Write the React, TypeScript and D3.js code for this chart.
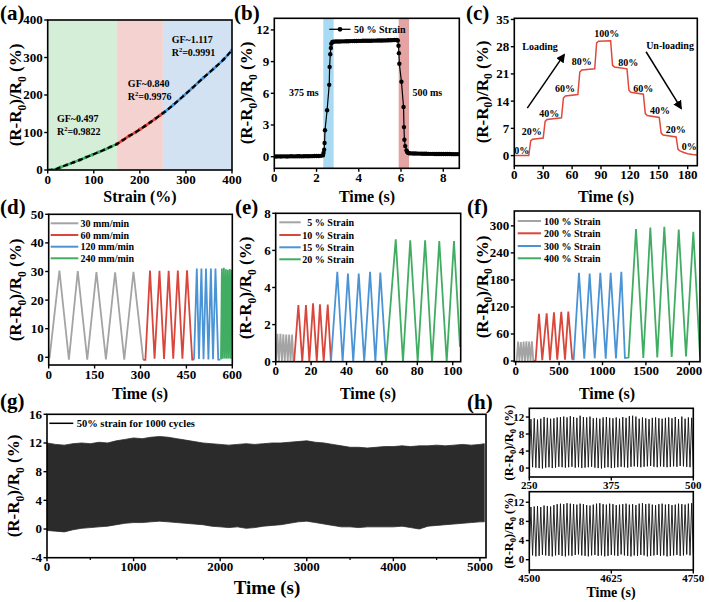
import React from "react";
import * as d3 from "d3";

const FONT = "'Liberation Serif','Times New Roman',serif";
const GRAY = "#a4a4a4";
const RED = "#d9463b";
const BLUE = "#4a94d6";
const GREEN = "#40ad62";

// ---------------- (a) strain sensitivity
const aStrainG = [0, 10, 20, 28, 42, 56, 70, 83, 97, 110, 124, 137, 150];
const aValueG = [0, 0.8, 3.5, 7.5, 14, 20.4, 27, 33.8, 40.8, 47.5, 54.5, 62, 69];
const aStrainR = [150, 163, 177, 190, 200, 212, 223, 234, 244, 250];
const aValueR = [69, 79.5, 91, 100, 108.3, 118, 127.5, 137, 146, 151.5];
const aStrainB = [250, 255, 273, 295, 315, 338, 360, 382, 400];
const aValueB = [151.5, 156, 174, 198, 220, 246, 270, 295, 320];
const aRegionEdges = [0, 150, 250, 400];
const aGF = ["GF~0.497", "GF~0.840", "GF~1.117"];
const aR2 = ["0.9822", "0.9976", "0.9991"];

// ---------------- (b) response time
const bBaseStart = 0, bBaseStep = 0.1;
const bBaseValue = [0.02, 0.02, 0.03, 0.02, 0.03, 0.03, 0.02, 0.03, 0.04, 0.03, 0.03, 0.04, 0.04, 0.03, 0.04, 0.05, 0.04, 0.05, 0.05, 0.06, 0.06, 0.07, 0.08];
const bRiseTime = [2.3, 2.33, 2.36, 2.38, 2.4, 2.5, 2.6, 2.62, 2.65, 2.68, 2.7, 2.75];
const bRiseValue = [0.12, 0.35, 0.65, 1.3, 2.5, 4.4, 6.8, 8.5, 9.7, 10.3, 10.7, 10.85];
const bPlatStart = 2.8, bPlatStep = 0.1;
const bPlatValue = [10.88, 10.9, 10.9, 10.91, 10.92, 10.92, 10.93, 10.93, 10.94, 10.94, 10.95, 10.95, 10.96, 10.96, 10.97, 10.97, 10.97, 10.98, 10.98, 10.99, 10.99, 11.0, 11.0, 11.0, 11.01, 11.01, 11.02, 11.02, 11.03, 11.04, 11.05];
const bFallTime = [5.85, 5.88, 5.9, 5.92, 6.02, 6.12, 6.14, 6.16, 6.2, 6.26, 6.3, 6.35];
const bFallValue = [11.0, 10.5, 9.8, 8.8, 7.1, 4.7, 2.8, 1.6, 1.0, 0.6, 0.42, 0.34];
const bTailStart = 6.4, bTailStep = 0.1;
const bTailValue = [0.32, 0.31, 0.3, 0.3, 0.29, 0.29, 0.28, 0.28, 0.28, 0.27, 0.27, 0.27, 0.26, 0.26, 0.26, 0.26, 0.25, 0.25, 0.25, 0.25, 0.24, 0.24, 0.24, 0.24];
const bBlueBand = [2.32, 2.81];
const bRedBand = [5.89, 6.38];

// ---------------- (c) step loading
const cTime = [0, 15, 17, 19, 30, 32, 34, 49, 51, 53, 66, 68, 70, 83.5, 85.5, 87.5, 100, 102, 104, 117, 119, 121, 134, 136, 138, 150.5, 152.5, 154.5, 168, 170, 172, 176, 180, 185, 190];
const cValue = [0, 0, 3.8, 4.2, 4.5, 8.8, 9.3, 9.7, 14.8, 15.3, 15.7, 21.5, 22, 22.3, 29, 29.4, 29.5, 23.2, 22.8, 22.3, 16.8, 16.3, 15.8, 10.8, 10.3, 9.8, 5.8, 5.3, 4.8, 1.6, 1.2, 0.8, 0.5, 0.3, 0.15];
const cLabels = ["0%", "20%", "40%", "60%", "80%", "100%", "80%", "60%", "40%", "20%", "0%"];
const cLabelTime = [7.7, 18.1, 36.3, 52.6, 70, 96, 118.4, 134, 151.3, 167.6, 181.7];
const cLabelValue = [0.4, 5.2, 10, 16.4, 23.2, 30.5, 23.1, 16.4, 10.6, 5.9, 1.4];

// ---------------- (d) stretching rates
const dGrayT = [0, 3, 35, 66, 95, 126, 156, 187, 217, 247, 277, 309];
const dGrayV = [0, 0, 30.3, -0.8, 30.1, -0.8, 29.8, -0.7, 29.7, -0.8, 29.9, -0.9];
const dRedT = [309, 316, 331, 346, 362, 377, 392, 407, 422, 437, 452, 469, 475];
const dRedV = [-0.9, -0.9, 30.3, -0.5, 30.2, -0.6, 30.2, -0.5, 30.3, -0.5, 30.4, -0.8, -0.8];
const dBlueT = [475, 484, 491, 499, 506, 514, 522, 530, 537, 545, 554, 561];
const dBlueV = [-0.8, 31, -0.6, 31, -0.7, 31, -0.8, 31, -0.7, 31, -0.8, -0.8];
const dGreenT = [561, 563, 566, 569, 572.5, 575.5, 579, 582, 585.5, 588.5, 592, 595, 598.5, 600];
const dGreenV = [-0.6, -0.5, 31, -0.5, 31.3, -0.4, 30.8, -0.5, 30.6, -0.4, 30.9, -0.5, 30.5, 15];
const dNames = ["30 mm/min", "60 mm/min", "120 mm/min", "240 mm/min"];

// ---------------- (e) small strains
const eGrayT = [0, 0.2, 1.0, 1.8, 2.65, 3.5, 4.3, 5.1, 5.95, 6.8, 7.6, 8.4, 9.25, 10.0, 10.4];
const eGrayV = [0, 0, 1.5, 0, 1.5, 0, 1.48, 0, 1.47, 0, 1.47, 0, 1.46, 0, 0];
const eRedT = [10.4, 12.8, 15, 17.1, 19, 21.1, 23.2, 25, 27.1, 29.4, 31.2];
const eRedV = [0, 3.05, 0, 3.05, 0, 3.15, 0, 3.1, 0, 3.08, 0];
const eBlueT = [31.2, 34.8, 37.8, 40.8, 43.8, 46.9, 50, 53.3, 56.3, 59.1, 62.3];
const eBlueV = [0, 4.85, 0, 4.75, 0, 4.75, 0, 4.85, 0, 4.8, 0];
const eGreenT = [62.3, 67.8, 71.9, 76, 80.2, 84.4, 88.3, 92.4, 96.6, 100.7, 104.1];
const eGreenV = [0, 6.6, 0, 6.55, 0, 6.55, 0, 6.5, 0, 6.5, 0.8];
const eNames = ["5 % Strain", "10 % Strain", "15 % Strain", "20 % Strain"];

// ---------------- (f) large strains
const fGrayT = [0, 11, 27, 43, 59, 75, 91, 107, 123, 139, 155, 171, 187, 203, 212];
const fGrayV = [0, 0, 43, 0, 42, 0, 43, 0, 44, 0, 43, 0, 44, 0, 0];
const fRedT = [212, 230, 268, 306, 357, 395, 441, 479, 525, 568, 606, 652];
const fRedV = [0, 2, 105, 2, 106, 2, 108, 3, 109, 3, 110, 3];
const fBlueT = [652, 668, 729, 790, 852, 910, 975, 1037, 1094, 1155, 1217, 1258, 1290];
const fBlueV = [3, 4, 196, 5, 194, 6, 196, 5, 196, 6, 198, 7, 7];
const fGreenT = [1290, 1300, 1386, 1470, 1551, 1631, 1712, 1797, 1878, 1962, 2046, 2123];
const fGreenV = [7, 8, 293, 7, 296, 8, 298, 9, 292, 10, 287, 10];
const fNames = ["100 % Strain", "200 % Strain", "300 % Strain", "400 % Strain"];

// ---------------- (g) 1000 cycles (envelope)
const gTime = [0, 100, 200, 300, 400, 500, 600, 700, 800, 900, 1000, 1100, 1200, 1300, 1400, 1500, 1600, 1700, 1800, 1900, 2000, 2100, 2200, 2300, 2400, 2500, 2600, 2700, 2800, 2900, 3000, 3100, 3200, 3300, 3400, 3500, 3600, 3700, 3800, 3900, 4000, 4100, 4200, 4300, 4400, 4500, 4600, 4700, 4800, 4900, 5000, 5050];
const gUpper = [12.0, 11.8, 11.7, 11.9, 12.0, 11.9, 12.1, 12.0, 12.3, 12.5, 12.7, 12.6, 12.8, 12.9, 12.8, 12.6, 12.4, 12.2, 12.0, 11.9, 11.8, 11.7, 11.8, 11.9, 11.8, 11.9, 12.0, 12.0, 12.1, 12.2, 12.3, 12.1, 12.0, 11.8, 11.6, 11.4, 11.4, 11.3, 11.4, 11.5, 11.5, 11.6, 11.5, 11.6, 11.6, 11.7, 11.6, 11.7, 11.8, 11.7, 11.8, 11.9];
const gLower = [-0.2, -0.3, -0.4, -0.1, 0.1, 0.2, 0.3, 0.4, 0.6, 0.8, 0.9, 0.9, 1.0, 1.1, 1.0, 0.9, 0.8, 0.7, 0.6, 0.4, 0.3, 0.2, 0.3, 0.1, 0.2, 0.4, 0.5, 0.6, 0.8, 1.0, 1.1, 0.9, 0.7, 0.5, 0.3, 0.3, 0.2, 0.3, 0.3, 0.3, 0.3, 0.4, 0.2, 0.0, 0.4, 0.5, 0.6, 0.7, 0.8, 0.9, 1.0, 1.0];

// ---------------- (h) zoomed cycles
const hPeriod = 5;
const hTopStart = 250;
const hTopPeak = [11.5, 11.7, 11.4, 11.6, 12.0, 11.8, 11.6, 11.7, 11.9, 12.0, 12.1, 11.9, 12.2, 12.0, 11.8, 12.3, 12.0, 11.9, 12.1, 11.7, 11.8, 11.6, 11.9, 12.0, 11.8, 11.7, 11.9, 11.6, 12.0, 11.8, 12.2, 12.3, 12.1, 11.6, 11.9, 11.7, 11.5, 11.8, 11.9, 11.7, 11.6, 11.8, 11.9, 11.7, 12.0, 11.5, 12.1, 11.6, 11.9, 11.8];
const hTopValley = [0.4, 0.2, 0.1, 0.0, -0.1, 0.1, 0.2, 0.0, 0.1, 0.3, 0.2, 0.1, 0.2, 0.3, 0.1, 0.2, 0.0, 0.1, 0.2, 0.3, 0.1, 0.0, -0.1, 0.1, 0.2, 0.0, 0.1, 0.2, 0.3, 0.2, 0.1, 0.3, 0.4, 0.3, 0.2, 0.3, 0.4, 0.5, 0.3, 0.2, 0.4, 0.3, 0.2, 0.3, 0.4, 0.3, 0.5, 0.4, 0.3, 0.2, 0.3];
const hBotStart = 4500;
const hBotPeak = [11.0, 11.1, 11.2, 11.0, 11.3, 11.2, 11.1, 11.4, 11.6, 11.7, 11.6, 11.8, 11.7, 11.6, 11.5, 11.7, 11.6, 11.4, 11.3, 11.5, 11.7, 11.8, 11.6, 11.5, 11.7, 11.6, 11.4, 11.5, 11.6, 11.7, 11.5, 11.6, 11.4, 11.7, 11.8, 11.6, 11.7, 11.5, 11.4, 11.6, 11.7, 11.5, 11.6, 11.4, 11.5, 11.7, 11.6, 11.5, 11.7, 11.8];
const hBotValley = [0.8, 0.9, 0.7, 0.8, 1.0, 0.9, 0.8, 0.7, 0.9, 1.0, 0.8, 0.7, 0.9, 0.8, 1.0, 1.1, 0.9, 0.8, 0.7, 0.9, 1.0, 0.8, 0.9, 0.7, 0.8, 1.0, 0.9, 0.8, 1.1, 0.9, 0.8, 0.7, 0.9, 0.8, 1.0, 0.9, 0.7, 0.8, 0.9, 1.0, 0.8, 0.9, 0.7, 0.8, 0.9, 1.0, 0.8, 0.9, 1.1, 0.9, 1.0];

type Sc = d3.ScaleLinear<number, number>;

const linePath = (x: Sc, y: Sc, T: number[], V: number[]) =>
  d3.line()(T.map((t, i) => [x(t), y(V[i])] as [number, number])) || "";

const uniformTimes = (start: number, step: number, n: number) => d3.range(n).map((i) => start + i * step);

function cycleSeries(start: number, period: number, peaks: number[], valleys: number[]) {
  const T: number[] = [];
  const V: number[] = [];
  valleys.forEach((v, i) => {
    T.push(start + i * period);
    V.push(v);
    if (i < peaks.length) {
      T.push(start + i * period + period / 2);
      V.push(peaks[i]);
    }
  });
  return { T, V };
}

function Panel(props: {
  id: string; l: number; r: number; t: number; b: number;
  xd: [number, number]; yd: [number, number]; xt: number[]; yt: number[];
  fs?: number; xMinor?: number[]; draw: (x: Sc, y: Sc) => React.ReactNode;
}) {
  const { id, l, r, t, b, xd, yd, xt, yt, fs = 13, xMinor = [], draw } = props;
  const x = d3.scaleLinear().domain(xd).range([l, r]);
  const y = d3.scaleLinear().domain(yd).range([b, t]);
  return (
    <g>
      <clipPath id={id}>
        <rect x={l} y={t} width={r - l} height={b - t} />
      </clipPath>
      <g clipPath={`url(#${id})`}>{draw(x, y)}</g>
      <rect x={l} y={t} width={r - l} height={b - t} fill="none" stroke="#000" strokeWidth={1.6} />
      {xt.map((v) => (
        <g key={"x" + v}>
          <line x1={x(v)} x2={x(v)} y1={b} y2={b + 3.5} stroke="#000" strokeWidth={1.4} />
          <text x={x(v)} y={b + 3.5 + fs * 0.78} textAnchor="middle" fontFamily={FONT} fontWeight="bold" fontSize={fs}>{v}</text>
        </g>
      ))}
      {xMinor.map((v) => (
        <line key={"m" + v} x1={x(v)} x2={x(v)} y1={b} y2={b + 2.2} stroke="#000" strokeWidth={1.2} />
      ))}
      {yt.map((v) => (
        <g key={"y" + v}>
          <line x1={l - 3.5} x2={l} y1={y(v)} y2={y(v)} stroke="#000" strokeWidth={1.4} />
          <text x={l - 5} y={y(v) + fs * 0.34} textAnchor="end" fontFamily={FONT} fontWeight="bold" fontSize={fs}>{v}</text>
        </g>
      ))}
    </g>
  );
}

function YTitle({ cx, cy, fs }: { cx: number; cy: number; fs: number }) {
  const s = fs * 0.68;
  const d = fs * 0.26;
  return (
    <text transform={`translate(${cx + fs * 0.36},${cy}) rotate(-90)`} textAnchor="middle" fontFamily={FONT} fontWeight="bold" fontSize={fs}>
      {"(R-R"}
      <tspan fontSize={s} dy={d}>0</tspan>
      <tspan dy={-d}>{")/R"}</tspan>
      <tspan fontSize={s} dy={d}>0</tspan>
      <tspan dy={-d}>{" (%)"}</tspan>
    </text>
  );
}

function XTitle({ cx, y, fs, label }: { cx: number; y: number; fs: number; label: string }) {
  return (
    <text x={cx} y={y} textAnchor="middle" fontFamily={FONT} fontWeight="bold" fontSize={fs}>{label}</text>
  );
}

function Letter({ x, y, label }: { x: number; y: number; label: string }) {
  return (
    <text x={x} y={y} fontFamily={FONT} fontWeight="bold" fontSize={21}>{label}</text>
  );
}

function Txt({ x, y, children, anchor = "start", fs = 10 }: { x: number; y: number; children: React.ReactNode; anchor?: string; fs?: number }) {
  return (
    <text x={x} y={y} textAnchor={anchor as any} fontFamily={FONT} fontWeight="bold" fontSize={fs}>{children}</text>
  );
}

export default function App() {
  const aSeries = [
    { T: aStrainG, V: aValueG, c: GREEN },
    { T: aStrainR, V: aValueR, c: RED },
    { T: aStrainB, V: aValueB, c: BLUE },
  ];
  const aBand = ["#d5eed8", "#f4d2cf", "#d2e2f2"];
  const aAllT = [...aStrainG, ...aStrainR.slice(1), ...aStrainB.slice(1)];
  const aAllV = [...aValueG, ...aValueR.slice(1), ...aValueB.slice(1)];
  const aTextPos = [
    { s: 20, v1: 128, v2: 93 },
    { s: 174, v1: 221, v2: 186 },
    { s: 269, v1: 338, v2: 303 },
  ];

  const bT = [
    ...uniformTimes(bBaseStart, bBaseStep, bBaseValue.length),
    ...bRiseTime,
    ...uniformTimes(bPlatStart, bPlatStep, bPlatValue.length),
    ...bFallTime,
    ...uniformTimes(bTailStart, bTailStep, bTailValue.length),
  ];
  const bV = [...bBaseValue, ...bRiseValue, ...bPlatValue, ...bFallValue, ...bTailValue];

  const dSeries = [
    { T: dGrayT, V: dGrayV, c: GRAY },
    { T: dRedT, V: dRedV, c: RED },
    { T: dBlueT, V: dBlueV, c: BLUE },
    { T: dGreenT, V: dGreenV, c: GREEN },
  ];
  const eSeries = [
    { T: eGrayT, V: eGrayV, c: GRAY },
    { T: eRedT, V: eRedV, c: RED },
    { T: eBlueT, V: eBlueV, c: BLUE },
    { T: eGreenT, V: eGreenV, c: GREEN },
  ];
  const fSeries = [
    { T: fGrayT, V: fGrayV, c: GRAY },
    { T: fRedT, V: fRedV, c: RED },
    { T: fBlueT, V: fBlueV, c: BLUE },
    { T: fGreenT, V: fGreenV, c: GREEN },
  ];
  const hTop = cycleSeries(hTopStart, hPeriod, hTopPeak, hTopValley);
  const hBot = cycleSeries(hBotStart, hPeriod, hBotPeak, hBotValley);

  const legendRows = (x1: number, x2: number, tx: number, ys: number[], names: string[], anchor: string) =>
    ys.map((yy, i) => (
      <g key={names[i]}>
        <line x1={x1} x2={x2} y1={yy} y2={yy} stroke={[GRAY, RED, BLUE, GREEN][i]} strokeWidth={2} />
        <Txt x={tx} y={yy + 3.5} anchor={anchor} fs={10}>{names[i]}</Txt>
      </g>
    ));

  return (
    <svg width={709} height={602} style={{ position: "absolute", left: 0, top: 0, background: "#fff" }}>
      <defs>
        <marker id="arr" viewBox="0 0 10 10" refX="8" refY="5" markerWidth="6" markerHeight="6" orient="auto-start-reverse">
          <path d="M0,0 L10,5 L0,10 z" fill="#000" />
        </marker>
      </defs>

      {/* (a) */}
      <Letter x={0} y={20} label="(a)" />
      <YTitle cx={15} cy={95} fs={17} />
      <XTitle cx={140} y={202} fs={16} label="Strain (%)" />
      <Panel id="ca" l={47.7} r={232} t={20} b={170} xd={[0, 400]} yd={[0, 400]} xt={[0, 100, 200, 300, 400]} yt={[0, 100, 200, 300, 400]}
        draw={(x, y) => (
          <g>
            {aBand.map((c, i) => (
              <rect key={c} x={x(aRegionEdges[i])} y={y(400)} width={x(aRegionEdges[i + 1]) - x(aRegionEdges[i])} height={y(0) - y(400)} fill={c} />
            ))}
            {aSeries.map((s) => (
              <g key={s.c}>
                <path d={d3.line().curve(d3.curveMonotoneX)(s.T.map((t, i) => [x(t), y(s.V[i])] as [number, number])) || ""} fill="none" stroke={s.c} strokeWidth={2.6} />
                {s.T.map((t, i) => (i > 2 || s.c !== GREEN) ? <circle key={i} cx={x(t)} cy={y(s.V[i])} r={1.8} fill={s.c} /> : null)}
              </g>
            ))}
            <path d={d3.line().curve(d3.curveMonotoneX)(aAllT.map((t, i) => [x(t), y(aAllV[i])] as [number, number])) || ""} fill="none" stroke="#000" strokeWidth={2.2} strokeDasharray="5 3" />
            {aTextPos.map((p, i) => (
              <g key={i}>
                <Txt x={x(p.s)} y={y(p.v1)} fs={10}>{aGF[i]}</Txt>
                <Txt x={x(p.s)} y={y(p.v2)} fs={10}>
                  {"R"}<tspan fontSize={6.5} dy={-4}>2</tspan><tspan dy={4}>{"=" + aR2[i]}</tspan>
                </Txt>
              </g>
            ))}
          </g>
        )} />

      {/* (b) */}
      <Letter x={234} y={20} label="(b)" />
      <YTitle cx={246} cy={93} fs={17} />
      <XTitle cx={367} y={202} fs={16} label="Time (s)" />
      <Panel id="cb" l={274.3} r={459.3} t={18.3} b={168.3} xd={[0, 8.76]} yd={[-1.1, 13.1]} xt={[0, 2, 4, 6, 8]} yt={[0, 3, 6, 9, 12]}
        draw={(x, y) => (
          <g>
            <rect x={x(bBlueBand[0])} y={y(13.1)} width={x(bBlueBand[1]) - x(bBlueBand[0])} height={y(-1.1) - y(13.1)} fill="#a8dbf3" />
            <rect x={x(bRedBand[0])} y={y(13.1)} width={x(bRedBand[1]) - x(bRedBand[0])} height={y(-1.1) - y(13.1)} fill="#e4a4a4" />
            <path d={linePath(x, y, bT, bV)} fill="none" stroke="#000" strokeWidth={1.2} />
            {bT.map((t, i) => <circle key={i} cx={x(t)} cy={y(bV[i])} r={2.2} fill="#000" />)}
            <Txt x={x(1.4)} y={y(5.7)} anchor="middle" fs={10}>375 ms</Txt>
            <Txt x={x(7.25)} y={y(5.7)} anchor="middle" fs={10}>500 ms</Txt>
          </g>
        )} />
      <line x1={329.3} x2={350.5} y1={29.3} y2={29.3} stroke="#000" strokeWidth={1.3} />
      <circle cx={340} cy={29.3} r={2.4} fill="#000" />
      <Txt x={354} y={32.8} fs={10}>50 % Strain</Txt>

      {/* (c) */}
      <Letter x={466} y={20} label="(c)" />
      <YTitle cx={481.7} cy={92} fs={17} />
      <XTitle cx={606} y={202} fs={16} label="Time (s)" />
      <Panel id="cc" l={514.3} r={697.3} t={18.3} b={165.7} xd={[0, 190]} yd={[-2.6, 35.3]} xt={[0, 30, 60, 90, 120, 150, 180]} yt={[0, 7, 14, 21, 28, 35]}
        draw={(x, y) => (
          <g>
            <path d={linePath(x, y, cTime, cValue)} fill="none" stroke="#e0493a" strokeWidth={1.5} />
            {cLabels.map((s, i) => (
              <Txt key={i} x={x(cLabelTime[i])} y={y(cLabelValue[i])} anchor="middle" fs={10}>{s}</Txt>
            ))}
            <Txt x={x(26.7)} y={y(27.1)} anchor="middle" fs={10}>Loading</Txt>
            <Txt x={x(161.7)} y={y(27.3)} anchor="middle" fs={10}>Un-loading</Txt>
            <line x1={x(13.5)} y1={y(12.2)} x2={x(51.6)} y2={y(25.9)} stroke="#000" strokeWidth={1.5} markerEnd="url(#arr)" />
            <line x1={x(136.8)} y1={y(26.7)} x2={x(173.1)} y2={y(12.2)} stroke="#000" strokeWidth={1.5} markerEnd="url(#arr)" />
          </g>
        )} />

      {/* (d) */}
      <Letter x={0} y={214} label="(d)" />
      <YTitle cx={15} cy={290} fs={17} />
      <XTitle cx={140} y={399} fs={16} label="Time (s)" />
      <Panel id="cd" l={48.7} r={232.3} t={214.3} b={365} xd={[0, 600]} yd={[-2.7, 50]} xt={[0, 150, 300, 450, 600]} yt={[0, 10, 20, 30, 40, 50]}
        draw={(x, y) => (
          <g>
            {dSeries.map((s) => <path key={s.c} d={linePath(x, y, s.T, s.V)} fill="none" stroke={s.c} strokeWidth={1.8} />)}
          </g>
        )} />
      {legendRows(50.7, 78.3, 80.5, [223.3, 235, 246.7, 258.3], dNames, "start")}

      {/* (e) */}
      <Letter x={235} y={214} label="(e)" />
      <YTitle cx={245} cy={288} fs={17} />
      <XTitle cx={368} y={399} fs={16} label="Time (s)" />
      <Panel id="ce" l={275.7} r={460.7} t={213.3} b={361.7} xd={[0, 104.5]} yd={[0, 8]} xt={[0, 20, 40, 60, 80, 100]} yt={[0, 2, 4, 6, 8]}
        draw={(x, y) => (
          <g>
            {eSeries.map((s) => <path key={s.c} d={linePath(x, y, s.T, s.V)} fill="none" stroke={s.c} strokeWidth={1.8} />)}
          </g>
        )} />
      {legendRows(279.3, 300.7, 354, [222.3, 235, 247.3, 259.3], eNames, "end")}

      {/* (f) */}
      <Letter x={467} y={214} label="(f)" />
      <YTitle cx={481.7} cy={287} fs={17} />
      <XTitle cx={607} y={399} fs={16} label="Time (s)" />
      <Panel id="cf" l={514.3} r={700} t={211} b={361.7} xd={[-16, 2123]} yd={[-1.5, 333]} xt={[0, 500, 1000, 1500, 2000]} yt={[0, 60, 120, 180, 240, 300]}
        draw={(x, y) => (
          <g>
            {fSeries.map((s) => <path key={s.c} d={linePath(x, y, s.T, s.V)} fill="none" stroke={s.c} strokeWidth={1.8} />)}
          </g>
        )} />
      {legendRows(517.7, 541, 544, [221, 233.3, 246, 258.3], fNames, "start")}

      {/* (g) */}
      <Letter x={0} y={408} label="(g)" />
      <YTitle cx={13.3} cy={486} fs={17} />
      <XTitle cx={267} y={594} fs={19} label="Time (s)" />
      <Panel id="cg" l={47} r={486} t={414.3} b={557.7} xd={[0, 5070]} yd={[-4, 16]} xt={[0, 1000, 2000, 3000, 4000, 5000]} yt={[-4, 0, 4, 8, 12, 16]}
        xMinor={[500, 1500, 2500, 3500, 4500]}
        draw={(x, y) => {
          const area = d3.area<number>().x((_, i) => x(gTime[i])).y0((_, i) => y(gLower[i])).y1((v) => y(v));
          return <path d={area(gUpper) || ""} fill="#2b2b2b" stroke="#2b2b2b" strokeWidth={0.8} />;
        }} />
      <line x1={49.3} x2={73.3} y1={423.3} y2={423.3} stroke="#000" strokeWidth={1.5} />
      <Txt x={76.7} y={426.8} fs={10.5}>50% strain for 1000 cycles</Txt>

      {/* (h) */}
      <Letter x={467} y={409} label="(h)" />
      <YTitle cx={508} cy={442.7} fs={12.5} />
      <YTitle cx={508} cy={530.8} fs={12.5} />
      <XTitle cx={611} y={597} fs={14} label="Time (s)" />
      <Panel id="ch1" l={529.3} r={693.3} t={408.3} b={477} xd={[250, 500]} yd={[-2.1, 14.05]} xt={[250, 375, 500]} yt={[0, 4, 8, 12]} fs={11}
        draw={(x, y) => <path d={linePath(x, y, hTop.T, hTop.V)} fill="none" stroke="#111" strokeWidth={0.9} />} />
      <Panel id="ch2" l={529.3} r={693.3} t={491.7} b={570} xd={[4500, 4750]} yd={[-2.15, 14.2]} xt={[4500, 4625, 4750]} yt={[0, 4, 8, 12]} fs={11}
        draw={(x, y) => <path d={linePath(x, y, hBot.T, hBot.V)} fill="none" stroke="#111" strokeWidth={0.9} />} />
    </svg>
  );
}
